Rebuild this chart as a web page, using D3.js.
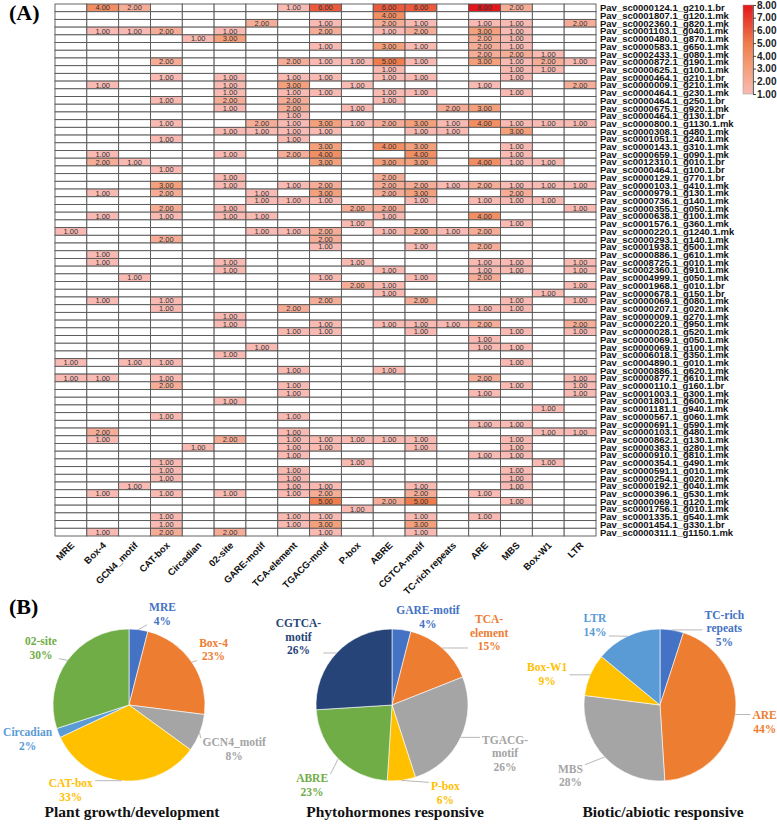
<!DOCTYPE html>
<html><head><meta charset="utf-8">
<script src="https://cdn.jsdelivr.net/npm/d3@7"></script>
<style>body{margin:0;background:#fff}svg{display:block}</style>
</head><body>
<svg id="chart" width="777" height="824"></svg>
<script>
// ---------------- DATA ----------------
const motifs = ["MRE","Box-4","GCN4_motif","CAT-box","Circadian","02-site","GARE-motif","TCA-element","TGACG-motif","P-box","ABRE","CGTCA-motif","TC-rich repeats","ARE","MBS","Box-W1","LTR"];
const genes = [
"Pav_sc0000124.1_g210.1.br","Pav_sc0001807.1_g120.1.mk","Pav_sc0002360.1_g820.1.mk","Pav_sc0001103.1_g040.1.mk","Pav_sc0000480.1_g870.1.mk",
"Pav_sc0000583.1_g650.1.mk","Pav_sc0002433.1_g080.1.mk","Pav_sc0000872.1_g190.1.mk","Pav_sc0000625.1_g100.1.mk","Pav_sc0000464.1_g210.1.br",
"Pav_sc0000009.1_g210.1.mk","Pav_sc0000464.1_g230.1.mk","Pav_sc0000464.1_g250.1.br","Pav_sc0000675.1_g920.1.mk","Pav_sc0000464.1_g130.1.br",
"Pav_sc0000800.1_g1130.1.mk","Pav_sc0000308.1_g480.1.mk","Pav_sc0001051.1_g240.1.mk","Pav_sc0000143.1_g310.1.mk","Pav_sc0000659.1_g090.1.mk",
"Pav_sc0012310.1_g010.1.br","Pav_sc0000464.1_g100.1.br","Pav_sc0000129.1_g770.1.br","Pav_sc0000103.1_g410.1.mk","Pav_sc0000979.1_g130.1.mk",
"Pav_sc0000736.1_g140.1.mk","Pav_sc0000355.1_g050.1.mk","Pav_sc0000638.1_g100.1.mk","Pav_sc0001576.1_g360.1.mk","Pav_sc0000220.1_g1240.1.mk",
"Pav_sc0000293.1_g140.1.mk","Pav_sc0001938.1_g500.1.mk","Pav_sc0000886.1_g610.1.mk","Pav_sc0008725.1_g010.1.mk","Pav_sc0002360.1_g910.1.mk",
"Pav_sc0004999.1_g050.1.mk","Pav_sc0001968.1_g010.1.br","Pav_sc0000678.1_g150.1.br","Pav_sc0000069.1_g080.1.mk","Pav_sc0000207.1_g020.1.mk",
"Pav_sc0000009.1_g270.1.mk","Pav_sc0000220.1_g950.1.mk","Pav_sc0000028.1_g520.1.mk","Pav_sc0000069.1_g050.1.mk","Pav_sc0000069.1_g100.1.mk",
"Pav_sc0006018.1_g350.1.mk","Pav_sc0004890.1_g010.1.mk","Pav_sc0000886.1_g620.1.mk","Pav_sc0000877.1_g610.1.mk","Pav_sc0000110.1_g160.1.br",
"Pav_sc0001003.1_g300.1.mk","Pav_sc0001801.1_g600.1.mk","Pav_sc0001181.1_g940.1.mk","Pav_sc0000567.1_g060.1.mk","Pav_sc0000691.1_g590.1.mk",
"Pav_sc0000103.1_g480.1.mk","Pav_sc0000862.1_g130.1.mk","Pav_sc0000383.1_g280.1.mk","Pav_sc0000910.1_g810.1.mk","Pav_sc0000354.1_g490.1.mk",
"Pav_sc0000591.1_g010.1.mk","Pav_sc0000254.1_g020.1.mk","Pav_sc0000192.1_g040.1.mk","Pav_sc0000396.1_g530.1.mk","Pav_sc0000069.1_g120.1.mk",
"Pav_sc0001756.1_g010.1.mk","Pav_sc0001335.1_g540.1.mk","Pav_sc0001454.1_g330.1.br","Pav_sc0000311.1_g1150.1.mk"];
// counts: one row per gene, one column per motif (0 = empty cell)
const counts = [
[0,4,2,0,0,0,0,1,6,0,6,6,0,8,2,0,0],
[0,0,0,0,0,0,0,0,0,0,4,0,0,0,0,0,0],
[0,0,0,0,0,0,2,0,1,0,2,1,0,1,1,0,2],
[0,1,1,2,0,1,0,0,2,0,1,2,0,3,1,0,0],
[0,0,0,0,1,3,0,0,0,0,0,0,0,2,1,0,0],
[0,0,0,0,0,0,0,0,1,0,3,1,0,2,1,0,0],
[0,0,0,0,0,0,0,0,0,0,0,0,0,2,2,1,0],
[0,0,0,2,0,0,0,2,1,1,5,1,0,3,1,2,1],
[0,0,0,0,0,0,0,0,0,0,1,0,0,0,1,1,0],
[0,0,0,1,0,1,0,1,1,0,1,1,0,0,1,0,0],
[0,1,0,0,0,1,0,3,0,1,0,0,0,1,0,0,2],
[0,0,0,0,0,1,0,1,1,0,1,1,0,0,1,0,0],
[0,0,0,1,0,2,0,2,0,0,1,0,0,0,0,0,0],
[0,0,0,0,0,1,0,2,0,1,0,0,2,3,0,0,0],
[0,0,0,0,0,0,0,1,0,0,0,0,0,0,0,0,0],
[0,0,0,1,0,0,2,1,3,1,2,3,1,4,1,1,1],
[0,0,0,0,0,1,1,1,1,0,0,1,1,0,3,0,0],
[0,0,0,1,0,0,0,1,0,0,0,0,0,0,0,0,0],
[0,0,0,0,0,0,0,0,3,0,4,3,0,0,1,0,0],
[0,1,0,0,0,1,0,2,4,0,0,4,0,0,1,0,0],
[0,2,1,0,0,0,0,0,3,0,3,3,0,4,1,1,0],
[0,0,0,1,0,0,0,0,0,0,0,0,0,0,0,0,0],
[0,0,0,0,0,1,0,0,0,0,2,0,0,0,0,0,0],
[0,0,0,3,0,1,0,1,2,0,2,2,1,2,1,1,1],
[0,1,0,2,0,0,1,0,3,0,2,3,0,0,2,0,0],
[0,0,0,0,0,0,1,1,1,0,0,1,0,1,1,1,0],
[0,0,0,2,0,1,0,0,0,2,2,0,0,0,0,0,1],
[0,1,0,1,0,1,1,0,0,0,1,0,0,4,0,0,0],
[0,0,0,0,0,0,0,0,0,1,0,0,0,0,1,0,0],
[1,0,0,0,0,0,1,1,2,0,1,2,1,2,0,0,0],
[0,0,0,2,0,0,0,0,2,0,0,0,0,0,0,0,0],
[0,0,0,0,0,0,0,0,1,0,0,1,0,2,0,0,0],
[0,1,0,0,0,0,0,0,0,0,0,0,0,0,0,0,0],
[0,1,0,0,0,1,0,0,0,1,0,0,0,1,1,0,1],
[0,0,0,0,0,1,0,0,0,0,1,0,0,1,1,0,1],
[0,0,1,0,0,0,0,0,1,0,0,1,0,2,0,0,0],
[0,0,0,0,0,0,0,0,0,2,1,0,0,0,0,0,1],
[0,0,0,0,0,0,0,0,0,0,1,0,0,0,0,1,0],
[0,1,0,1,0,0,0,0,2,0,0,2,0,0,1,0,1],
[0,0,0,1,0,0,0,2,0,0,0,0,0,1,1,0,0],
[0,0,0,0,0,1,0,0,0,0,0,0,0,0,0,0,0],
[0,0,0,0,0,1,0,0,1,0,1,1,1,2,0,0,2],
[0,0,0,0,0,0,0,1,1,0,0,1,0,0,1,0,1],
[0,0,0,0,0,0,0,0,0,0,0,0,0,1,0,0,0],
[0,0,0,0,0,0,1,0,0,0,0,0,0,1,1,0,0],
[0,0,0,0,0,1,0,0,0,0,0,0,0,0,0,0,0],
[1,0,1,1,0,0,0,0,0,0,0,0,0,0,1,0,0],
[0,0,0,0,0,0,0,1,0,0,1,0,0,0,0,0,0],
[1,1,0,1,0,0,0,0,0,0,0,0,0,2,0,0,1],
[0,0,0,2,0,0,0,1,0,0,0,0,0,0,1,0,1],
[0,0,0,0,0,0,0,1,0,0,0,0,0,1,0,0,1],
[0,0,0,0,0,1,0,0,0,0,0,0,0,0,0,0,0],
[0,0,0,0,0,0,0,0,0,0,0,0,0,0,0,1,0],
[0,0,0,1,0,0,0,1,0,0,0,0,0,0,0,0,0],
[0,0,0,0,0,0,0,0,0,0,0,0,0,1,1,0,0],
[0,2,0,0,0,0,0,1,0,0,0,0,0,0,0,1,1],
[0,1,0,0,0,2,0,1,1,1,1,1,0,0,1,0,0],
[0,0,0,0,1,0,0,1,1,0,0,1,0,0,1,0,0],
[0,0,0,0,0,0,0,1,0,0,0,0,0,1,1,0,0],
[0,0,0,1,0,0,0,0,0,1,0,0,0,0,0,1,0],
[0,0,0,1,0,0,0,1,0,0,0,0,0,0,1,0,0],
[0,0,0,1,0,0,0,1,0,0,0,0,0,0,1,0,0],
[0,0,1,0,0,0,0,1,1,0,0,1,0,0,1,0,0],
[0,1,0,1,0,1,0,1,2,0,0,2,0,1,0,0,0],
[0,0,0,0,0,0,0,0,5,0,2,5,0,0,1,0,0],
[0,0,0,0,0,0,0,0,0,1,0,0,0,0,0,0,0],
[0,0,0,1,0,0,0,1,1,0,0,1,0,1,0,0,0],
[0,0,0,1,0,0,0,1,3,0,0,3,0,0,0,0,0],
[0,1,0,2,0,2,0,0,1,0,0,1,0,0,0,0,0]];
const colorbarTicks = [1,2,3,4,5,6,7,8];

const growthNames = ["MRE","Box-4","GCN4_motif","CAT-box","Circadian","02-site"];
const growthPct   = [4,23,8,33,2,30];
const hormoneNames = ["GARE-motif","TCA-element","TGACG-motif","P-box","ABRE","CGTCA-motif"];
const hormonePct   = [4,15,26,6,23,26];
const stressNames = ["TC-rich repeats","ARE","MBS","Box-W1","LTR"];
const stressPct   = [5,44,28,9,14];
const pieTitles = ["Plant growth/development","Phytohormones responsive","Biotic/abiotic responsive"];

// ---------------- DRAW ----------------
const svg = d3.select("#chart");
svg.append("rect").attr("width",777).attr("height",824).attr("fill","#fff");

const x = d3.scaleBand().domain(motifs).range([55,596]);
const y = d3.scaleBand().domain(genes).range([4,536]);
const heat = d3.scaleLinear().domain([1,3,5,8]).range(["#f8bab3","#f4a07c","#ef7c4c","#e3161c"]);

const cells = [];
genes.forEach((g,i)=>motifs.forEach((m,j)=>cells.push({g,m,v:counts[i][j]})));

const hg = svg.append("g");
hg.selectAll("rect").data(cells).join("rect")
  .attr("x",d=>x(d.m)).attr("y",d=>y(d.g))
  .attr("width",x.bandwidth()).attr("height",y.bandwidth())
  .attr("fill",d=>d.v>0?heat(d.v):"#fff")
  .attr("stroke","#555").attr("stroke-width",0.9);
hg.selectAll("text").data(cells.filter(d=>d.v>0)).join("text")
  .attr("x",d=>x(d.m)+x.bandwidth()/2).attr("y",d=>y(d.g)+y.bandwidth()/2)
  .attr("dy","0.35em").attr("text-anchor","middle")
  .attr("font-family","Liberation Sans, Arial, sans-serif").attr("font-size",7.5)
  .attr("fill","#333").text(d=>d3.format(".2f")(d.v));

// row labels
svg.append("g").selectAll("text").data(genes).join("text")
  .attr("x",600).attr("y",d=>y(d)+y.bandwidth()/2).attr("dy","0.36em")
  .attr("font-family","Liberation Sans, Arial, sans-serif").attr("font-weight","bold")
  .attr("font-size",9.5).attr("fill","#111").text(d=>d);

// column labels
svg.append("g").selectAll("text").data(motifs).join("text")
  .attr("transform",d=>`translate(${x(d)+x.bandwidth()/2+4},546) rotate(-45)`)
  .attr("text-anchor","end")
  .attr("font-family","Liberation Sans, Arial, sans-serif").attr("font-weight","bold")
  .attr("font-size",9.5).attr("fill","#111").text(d=>d);

// colorbar
const cb = d3.scaleLinear().domain([1,8]).range([94,5]);
const defs = svg.append("defs");
const grad = defs.append("linearGradient").attr("id","cbg").attr("x1",0).attr("y1",1).attr("x2",0).attr("y2",0);
d3.range(1,8.01,0.5).forEach(v=>grad.append("stop").attr("offset",(v-1)/7).attr("stop-color",heat(v)));
svg.append("rect").attr("x",743).attr("y",cb(8)).attr("width",10).attr("height",cb(1)-cb(8))
  .attr("fill","url(#cbg)").attr("stroke","#999").attr("stroke-width",0.5);
const cax = svg.append("g").attr("transform","translate(753,0)")
  .call(d3.axisRight(cb).tickValues(colorbarTicks).tickFormat(d3.format(".2f")).tickSize(3).tickPadding(1));
cax.select(".domain").attr("stroke","#666");
cax.selectAll(".tick line").attr("stroke","#444");
cax.selectAll("text").attr("font-family","Liberation Sans, Arial, sans-serif").attr("font-size",10).attr("font-weight","bold").attr("fill","#222");

// panel letters
svg.append("text").attr("x",9).attr("y",20).attr("font-family","Liberation Serif, Times New Roman, serif")
  .attr("font-weight","bold").attr("font-size",22).text("(A)");
svg.append("text").attr("x",9).attr("y",614).attr("font-family","Liberation Serif, Times New Roman, serif")
  .attr("font-weight","bold").attr("font-size",22).text("(B)");

// pies
const R = 76;
const colBlue="#4472c4", colOrange="#ed7d31", colGray="#a5a5a5", colGold="#ffc000", colLBlue="#5b9bd5", colGreen="#70ad47", colNavy="#264478";
function drawPie(cx, cy, names, pct, colors, title, layout){
  const g = svg.append("g").attr("transform",`translate(${cx},${cy})`);
  const arcs = d3.pie().sort(null).value(d=>d.v)(names.map((n,i)=>({n,v:pct[i],c:colors[i]})));
  g.selectAll("path").data(arcs).join("path")
    .attr("d",d3.arc().innerRadius(0).outerRadius(R))
    .attr("fill",d=>d.data.c).attr("stroke","#fff").attr("stroke-width",0.6);
  arcs.forEach(a=>{
    const mid=(a.startAngle+a.endAngle)/2;
    const L = layout[a.data.n]||{};
    const ang = mid + (L.da||0)*Math.PI/180;
    const dist = L.d||104;
    const lx = Math.sin(ang)*dist, ly = -Math.cos(ang)*dist;
    const lines = (L.lines||[a.data.n]).concat([a.data.v+"%"]);
    const lh = 13.5;
    const t = g.append("text").attr("text-anchor","middle")
      .attr("font-family","Liberation Serif, Times New Roman, serif").attr("font-weight","bold")
      .attr("font-size",11.5).attr("fill",a.data.c);
    lines.forEach((s,i)=>t.append("tspan").attr("x",lx).attr("y",ly+(i-(lines.length-1)/2)*lh).attr("dy","0.35em").text(s));
    const ex=Math.sin(mid)*R, ey=-Math.cos(mid)*R;
    const bb=t.node().getBBox();
    const px=Math.max(bb.x-2,Math.min(ex,bb.x+bb.width+2));
    const py=Math.max(bb.y+2,Math.min(ey,bb.y+bb.height-2));
    if(Math.hypot(px-ex,py-ey)>4){
      g.insert("line","text").attr("x1",ex).attr("y1",ey).attr("x2",px).attr("y2",py)
        .attr("stroke","#a6a6a6").attr("stroke-width",0.8);
    }
  });
  svg.append("text").attr("x",cx+3).attr("y",817).attr("text-anchor","middle")
    .attr("font-family","Liberation Serif, Times New Roman, serif").attr("font-weight","bold")
    .attr("font-size",15.5).attr("fill","#111").text(title);
}
drawPie(129,705,growthNames,growthPct,[colBlue,colOrange,colGray,colGold,colLBlue,colGreen],pieTitles[0],{
  "MRE":{da:13,d:97},"Box-4":{da:1,d:101},"GCN4_motif":{da:1,d:114},"CAT-box":{da:29,d:103},"Circadian":{da:3,d:107},"02-site":{da:-3,d:105}
});
drawPie(392,705,hormoneNames,hormonePct,[colBlue,colOrange,colGray,colGold,colGreen,colNavy],pieTitles[1],{
  "GARE-motif":{da:15,d:95},"TCA-element":{da:12,d:121,lines:["TCA-","element"]},
  "TGACG-motif":{da:-2,d:123,lines:["TGACG-","motif"]},"P-box":{da:-24,d:103},"ABRE":{da:0,d:113},
  "CGTCA-motif":{da:-7,d:116,lines:["CGTCA-","motif"]}
});
drawPie(660,705,stressNames,stressPct,[colBlue,colOrange,colGray,colGold,colLBlue],pieTitles[2],{
  "TC-rich repeats":{da:31,d:100,lines:["TC-rich","repeats"]},"ARE":{da:2,d:106},"MBS":{da:5,d:114},
  "Box-W1":{da:-8,d:117},"LTR":{da:-14,d:103}
});
</script>
</body></html>
